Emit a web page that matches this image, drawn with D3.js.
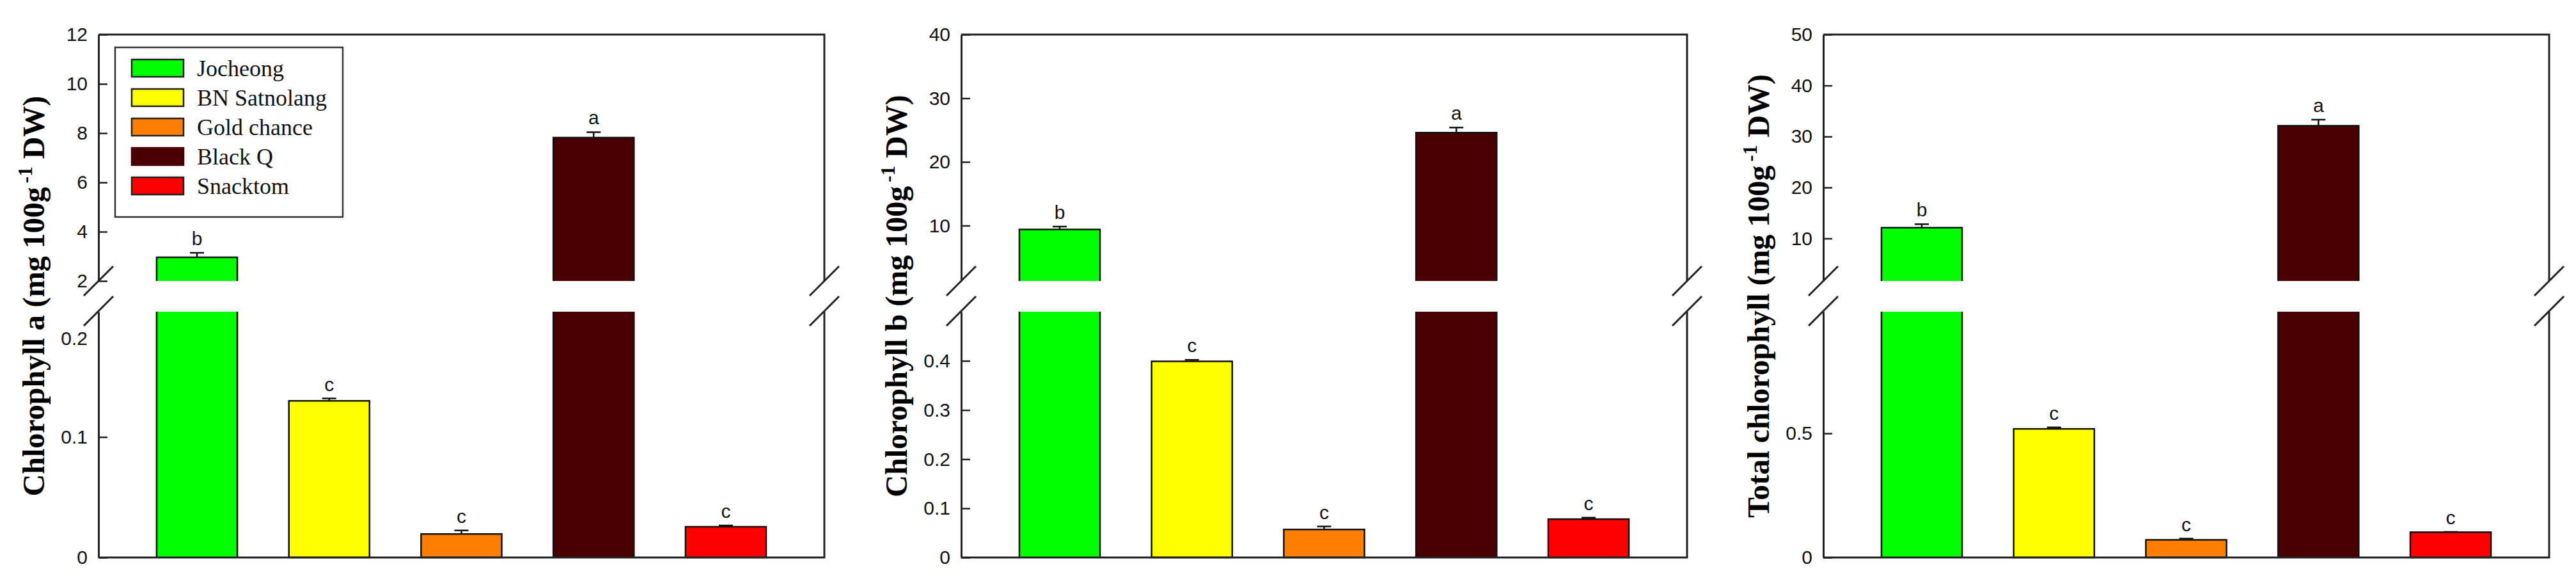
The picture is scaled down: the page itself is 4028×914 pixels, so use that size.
<!DOCTYPE html>
<html lang="en">
<head>
<meta charset="UTF-8">
<script src="https://d3js.org/d3.v7.min.js"></script>
<style>
  body { margin: 0; background: #fff; }
  .tick text { font-family: "Liberation Sans", Arial, sans-serif; font-size: 30px; fill: #111; }
  .ytitle { font-family: "Liberation Serif", "Times New Roman", serif; font-weight: bold; font-size: 48px; fill: #000; }
  .letter { font-family: "Liberation Sans", Arial, sans-serif; font-size: 30px; fill: #111; text-anchor: middle; }
  .legend text { font-family: "Liberation Serif", "Times New Roman", serif; font-size: 36px; fill: #111; }
</style>
</head>
<body>
<script>
// cultivars + colours
const cultivars = ["Jocheong", "BN Satnolang", "Gold chance", "Black Q", "Snacktom"];
const colors = ["#00ff00", "#ffff00", "#ff8000", "#4a0000", "#ff0000"];

// chlorophyll a
const chlA = [2.96, 0.130, 0.0195, 7.82, 0.0255];
const chlAErr = [0.18, 0.002, 0.003, 0.22, 0.001];
const chlALetters = ["b", "c", "c", "a", "c"];
const chlAUpper = [2, 12], chlALower = [0, 0.204];
const chlAUpperTicks = [2, 4, 6, 8, 10, 12], chlALowerTicks = [0, 0.1, 0.2];

// chlorophyll b
const chlB = [9.4, 0.399, 0.057, 24.6, 0.078];
const chlBErr = [0.45, 0.003, 0.006, 0.8, 0.003];
const chlBLetters = ["b", "c", "c", "a", "c"];
const chlBUpper = [1.3, 40], chlBLower = [0, 0.5];
const chlBUpperTicks = [10, 20, 30, 40], chlBLowerTicks = [0, 0.1, 0.2, 0.3, 0.4];

// total chlorophyll
const chlT = [12.1, 0.518, 0.071, 32.1, 0.102];
const chlTErr = [0.7, 0.006, 0.005, 1.2, 0.001];
const chlTLetters = ["b", "c", "c", "a", "c"];
const chlTUpper = [1.66, 50], chlTLower = [0, 0.99];
const chlTUpperTicks = [10, 20, 30, 40, 50], chlTLowerTicks = [0, 0.5];

const panels = [
  {left: 154, title: "Chlorophyll a (mg 100g", values: chlA, err: chlAErr, letters: chlALetters,
   upper: chlAUpper, lower: chlALower, upperTicks: chlAUpperTicks, lowerTicks: chlALowerTicks, legend: true},
  {left: 1503, title: "Chlorophyll b (mg 100g", values: chlB, err: chlBErr, letters: chlBLetters,
   upper: chlBUpper, lower: chlBLower, upperTicks: chlBUpperTicks, lowerTicks: chlBLowerTicks},
  {left: 2851, title: "Total chlorophyll (mg 100g", values: chlT, err: chlTErr, letters: chlTLetters,
   upper: chlTUpper, lower: chlTLower, upperTicks: chlTUpperTicks, lowerTicks: chlTLowerTicks}
];

const W = 4028, H = 914;
const plotW = 1135, plotTop = 54, plotBottom = 871;
const breakHi = 439, breakLo = 487;   // upper segment ends / lower segment starts
const axisColor = "#222";

const svg = d3.select("body").append("svg")
    .attr("width", W).attr("height", H);

function slash(g, x, y) {
  g.append("line")
    .attr("x1", x - 23).attr("y1", y + 23)
    .attr("x2", x + 23).attr("y2", y - 23)
    .attr("stroke", axisColor).attr("stroke-width", 3);
}

panels.forEach(p => {
  const g = svg.append("g").attr("transform", `translate(${p.left},0)`);

  const x = d3.scaleBand().domain(cultivars).range([0, plotW])
      .paddingInner(0.39).paddingOuter(0.44);
  const yU = d3.scaleLinear().domain(p.upper).range([breakHi, plotTop]);
  const yL = d3.scaleLinear().domain(p.lower).range([plotBottom, breakLo]);
  const lowMax = p.lower[1];

  // bars
  cultivars.forEach((c, i) => {
    const v = p.values[i], bx = x(c), bw = x.bandwidth();
    if (v > lowMax) {
      const yt = yU(v);
      g.append("rect").attr("x", bx).attr("y", yt).attr("width", bw).attr("height", breakHi - yt)
        .attr("fill", colors[i]);
      g.append("rect").attr("x", bx).attr("y", breakLo).attr("width", bw).attr("height", plotBottom - breakLo)
        .attr("fill", colors[i]);
      g.append("path")
        .attr("d", `M${bx},${breakHi}V${yt}H${bx + bw}V${breakHi}M${bx},${breakLo}V${plotBottom}M${bx + bw},${breakLo}V${plotBottom}`)
        .attr("fill", "none").attr("stroke", "#111").attr("stroke-width", 2.5);
    } else {
      g.append("rect").attr("x", bx).attr("y", yL(v)).attr("width", bw).attr("height", plotBottom - yL(v))
        .attr("fill", colors[i]).attr("stroke", "#111").attr("stroke-width", 2.5);
    }
    // error bar
    const ys = v > lowMax ? yU : yL;
    const cx = bx + bw / 2, y0 = ys(v), y1 = ys(v + p.err[i]);
    g.append("path")
      .attr("d", `M${cx},${y0}V${y1}M${cx - 11},${y1}H${cx + 11}`)
      .attr("fill", "none").attr("stroke", "#111").attr("stroke-width", 2.5);
    g.append("text").attr("class", "letter")
      .attr("x", cx).attr("y", y1 - 12)
      .text(p.letters[i]);
  });

  // left axis (two segments)
  const fmt = d => String(d);
  const axU = d3.axisLeft(yU).tickValues(p.upperTicks).tickFormat(fmt)
      .tickSizeInner(-14).tickSizeOuter(0).tickPadding(17);
  const axL = d3.axisLeft(yL).tickValues(p.lowerTicks).tickFormat(fmt)
      .tickSizeInner(-14).tickSizeOuter(0).tickPadding(17);
  [axU, axL].forEach(ax => {
    const a = g.append("g").call(ax);
    a.select(".domain").attr("stroke", axisColor).attr("stroke-width", 3);
    a.selectAll(".tick line").attr("stroke", axisColor).attr("stroke-width", 2.5);
    // a tick sitting right at the break: no mark, label pushed below the slash
    a.selectAll(".tick").filter(d => ax === axL && yL(d) - breakLo < 15)
      .each(function() {
        d3.select(this).select("line").remove();
        d3.select(this).select("text").attr("dy", "1.45em");
      });
  });

  // frame: top, right (broken), bottom
  g.append("path")
    .attr("d", `M0,${plotTop}H${plotW}V${breakHi}M${plotW},${breakLo}V${plotBottom}H0`)
    .attr("fill", "none").attr("stroke", axisColor).attr("stroke-width", 3);

  // break marks
  slash(g, 0, breakHi); slash(g, 0, breakLo - 1);
  slash(g, plotW, breakHi); slash(g, plotW, breakLo - 1);

  // y title
  const t = g.append("text").attr("class", "ytitle")
    .attr("transform", `translate(-102,${(plotTop + plotBottom) / 2}) rotate(-90)`)
    .attr("text-anchor", "middle").attr("dy", "0.35em");
  t.append("tspan").text(p.title);
  t.append("tspan").attr("font-size", "31px").attr("dx", "6").attr("dy", "-0.6em").text("-1");
  t.append("tspan").attr("dy", "0.4em").text(" DW)");

  // legend
  if (p.legend) {
    const lg = g.append("g").attr("class", "legend").attr("transform", `translate(${180 - p.left},74)`);
    lg.append("rect").attr("width", 356).attr("height", 265)
      .attr("fill", "#fff").attr("stroke", "#333").attr("stroke-width", 2.5);
    cultivars.forEach((c, i) => {
      lg.append("rect").attr("x", 26).attr("y", 19 + i * 46).attr("width", 81).attr("height", 27)
        .attr("fill", colors[i]).attr("stroke", i === 3 ? colors[i] : "#222").attr("stroke-width", 2.5);
      lg.append("text").attr("x", 128).attr("y", 32.5 + i * 46).attr("dy", "0.35em").text(c);
    });
  }
});
</script>
</body>
</html>
